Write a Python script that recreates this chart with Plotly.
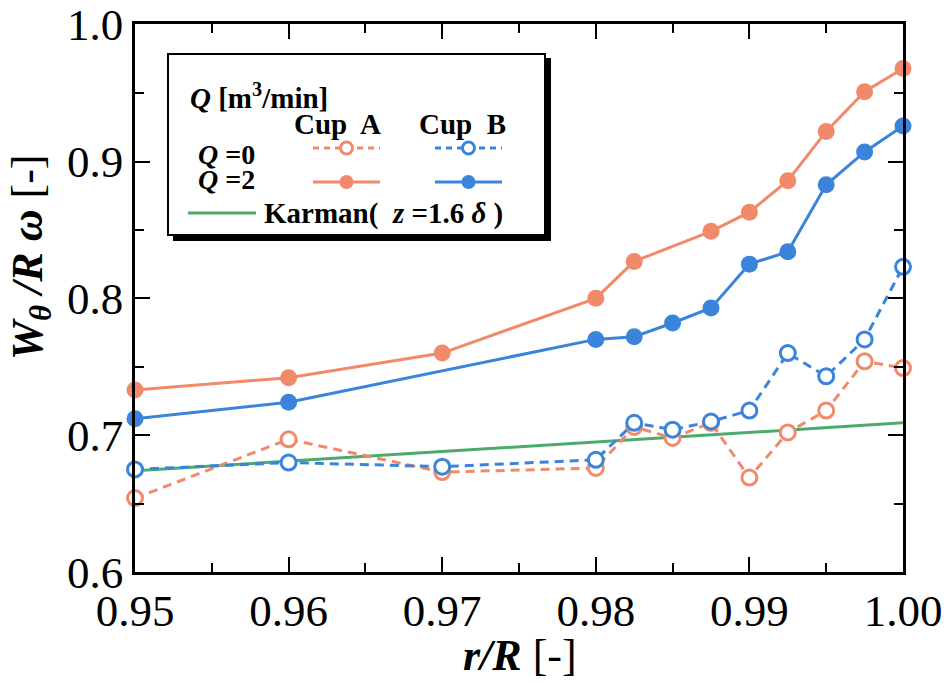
import plotly.graph_objects as go

# r/R positions of the measurements
r_q0 = [0.95, 0.96, 0.97, 0.98, 0.9825, 0.985, 0.9875, 0.99, 0.9925, 0.995, 0.9975, 1.00]
r_a_q2 = [0.95, 0.96, 0.97, 0.98, 0.9825, 0.9875, 0.99, 0.9925, 0.995, 0.9975, 1.00]
r_b_q2 = [0.95, 0.96, 0.98, 0.9825, 0.985, 0.9875, 0.99, 0.9925, 0.995, 0.9975, 1.00]
r_karman = [0.95, 0.96, 0.97, 0.98, 0.99, 1.00]

# Dimensionless tangential velocity W_theta / (R omega)
cup_a_q0 = [0.654, 0.697, 0.673, 0.676, 0.706, 0.698, 0.709, 0.669, 0.702, 0.718, 0.754, 0.749]
cup_b_q0 = [0.675, 0.680, 0.677, 0.682, 0.709, 0.704, 0.710, 0.718, 0.760, 0.743, 0.770, 0.823]
cup_a_q2 = [0.733, 0.742, 0.760, 0.800, 0.827, 0.849, 0.863, 0.886, 0.922, 0.951, 0.968]
cup_b_q2 = [0.712, 0.724, 0.770, 0.772, 0.782, 0.793, 0.825, 0.834, 0.883, 0.907, 0.926]
karman = [0.674, 0.681, 0.688, 0.695, 0.702, 0.709]

x_ticks = [0.95, 0.96, 0.97, 0.98, 0.99, 1.00]
y_ticks = [0.6, 0.7, 0.8, 0.9, 1.0]

ORANGE = "#F08A6B"
BLUE = "#3A84DC"
GREEN = "#4CAA6C"
FONT = "'Liberation Serif', 'Times New Roman', Times, serif"

W, H = 950, 683
ML, MR, MT, MB = 135, 47, 24, 111
PW, PH = W - ML - MR, H - MT - MB


def px(x):
    return (x - ML) / PW


def py(y):
    return (H - MB - y) / PH


fig = go.Figure()

fig.add_trace(go.Scatter(x=r_karman, y=karman, mode="lines",
                         line=dict(color=GREEN, width=3), cliponaxis=False))
fig.add_trace(go.Scatter(x=r_q0, y=cup_a_q0, mode="lines+markers",
                         line=dict(color=ORANGE, width=3, dash="9px,6px"),
                         marker=dict(size=15, color="white", line=dict(color=ORANGE, width=3)),
                         cliponaxis=False))
fig.add_trace(go.Scatter(x=r_q0, y=cup_b_q0, mode="lines+markers",
                         line=dict(color=BLUE, width=3, dash="9px,6px"),
                         marker=dict(size=15, color="white", line=dict(color=BLUE, width=3)),
                         cliponaxis=False))
fig.add_trace(go.Scatter(x=r_a_q2, y=cup_a_q2, mode="lines+markers",
                         line=dict(color=ORANGE, width=3),
                         marker=dict(size=17, color=ORANGE),
                         cliponaxis=False))
fig.add_trace(go.Scatter(x=r_b_q2, y=cup_b_q2, mode="lines+markers",
                         line=dict(color=BLUE, width=3),
                         marker=dict(size=17, color=BLUE),
                         cliponaxis=False))

axis_common = dict(
    showline=True, linecolor="black", linewidth=2.5, mirror="ticks",
    ticks="inside", ticklen=15, tickwidth=2, tickcolor="black",
    showgrid=False, zeroline=False, ticklabeloverflow="allow",
    automargin=False,
    tickfont=dict(family=FONT, size=45, color="black"),
)

fig.update_xaxes(range=[0.95, 1.00], tickvals=x_ticks,
                 ticktext=[f"{v:.2f}" for v in x_ticks], ticklabelstandoff=-3,
                 minor=dict(ticks="inside", ticklen=9, tickwidth=2, tickcolor="black", dtick=0.005),
                 **axis_common)
fig.update_yaxes(range=[0.6, 1.0005], tickvals=y_ticks,
                 ticktext=[f"{v:.1f}" for v in y_ticks], ticklabelstandoff=0,
                 minor=dict(ticks="inside", ticklen=9, tickwidth=2, tickcolor="black", dtick=0.05),
                 **axis_common)

shapes = []
annotations = []

# legend frame with drop shadow
shapes.append(dict(type="rect", xref="paper", yref="paper",
                   x0=px(173), x1=px(551), y0=py(58), y1=py(241),
                   fillcolor="black", line=dict(width=0)))
shapes.append(dict(type="rect", xref="paper", yref="paper",
                   x0=px(168), x1=px(545), y0=py(54), y1=py(235),
                   fillcolor="white", line=dict(color="black", width=2)))


def sample(x0, x1, y, color, dash, filled):
    shapes.append(dict(type="line", xref="paper", yref="paper",
                       x0=px(x0), x1=px(x1), y0=py(y), y1=py(y),
                       line=dict(color=color, width=3, dash=dash)))
    cx = (x0 + x1) / 2
    r = 7 if filled else 6
    shapes.append(dict(type="circle", xref="paper", yref="paper",
                       xsizemode="pixel", ysizemode="pixel",
                       xanchor=px(cx), yanchor=py(y),
                       x0=-r, x1=r, y0=-r, y1=r,
                       fillcolor=color if filled else "white",
                       line=dict(color=color, width=0 if filled else 3)))


sample(313, 380, 148, ORANGE, "6px,5px", False)
sample(313, 380, 182, ORANGE, "solid", True)
sample(435, 502, 148, BLUE, "6px,5px", False)
sample(435, 502, 182, BLUE, "solid", True)
shapes.append(dict(type="line", xref="paper", yref="paper",
                   x0=px(188), x1=px(256), y0=py(213), y1=py(213),
                   line=dict(color=GREEN, width=3)))


def label(x, y, text, size=29, xanchor="left", angle=0):
    annotations.append(dict(x=px(x), y=py(y), xref="paper", yref="paper",
                            text=text, showarrow=False, xanchor=xanchor,
                            yanchor="middle", textangle=angle,
                            font=dict(family=FONT, size=size, color="black")))


label(188, 96, "<b><i>Q</i> [m<sup>3</sup>/min]</b>")
label(337, 124, "<b>Cup&nbsp; A</b>", xanchor="center")
label(462, 124, "<b>Cup&nbsp; B</b>", xanchor="center")
label(196, 154, "<b><i>Q</i> =0</b>", size=28)
label(196, 179, "<b><i>Q</i> =2</b>", size=28)
label(262, 213, "<b>Karman(&nbsp; <i>z</i> =1.6 <i>δ</i>&nbsp;)</b>")

# axis titles
label(520, 655, "<b><i>r/R</i></b> [-]", size=44, xanchor="center")
label(30, 258, "<b><i>W</i></b><sub><b><i>θ</i></b></sub><b><i> /R ω</i></b> [-]",
      size=44, xanchor="center", angle=-90)

fig.update_layout(
    width=W, height=H,
    margin=dict(l=ML, r=MR, t=MT, b=MB),
    paper_bgcolor="white", plot_bgcolor="white",
    showlegend=False,
    shapes=shapes, annotations=annotations,
    font=dict(family=FONT, color="black"),
)

fig.write_html("out.html")
